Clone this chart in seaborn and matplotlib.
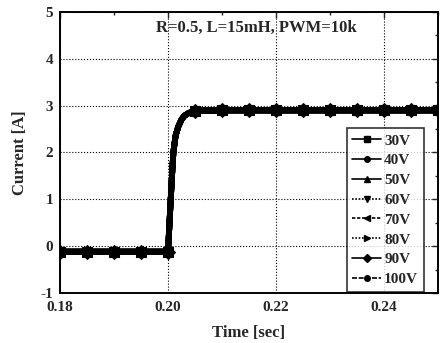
import numpy as np
import pandas as pd
import matplotlib
matplotlib.use("Agg")
import matplotlib.pyplot as plt
from matplotlib.lines import Line2D
from matplotlib.ticker import MultipleLocator
import seaborn as sns

# values
time_sec = [0.180, 0.185, 0.190, 0.195, 0.200,
            0.2002, 0.2004, 0.2007, 0.2010, 0.2014, 0.2019, 0.2025, 0.2030, 0.2038, 0.2045,
            0.205, 0.210, 0.215, 0.220, 0.225, 0.230, 0.235, 0.240, 0.245, 0.250]
current_a = [-0.12, -0.12, -0.12, -0.12, -0.12,
             0.30, 0.75, 1.41, 2.00, 2.35, 2.55, 2.70, 2.78, 2.84, 2.87,
             2.89, 2.90, 2.90, 2.90, 2.90, 2.90, 2.90, 2.90, 2.90, 2.90]
voltages = ["30V", "40V", "50V", "60V", "70V", "80V", "90V", "100V"]
marker_shapes = ["s", "o", "^", "v", "<", ">", "D", "o"]
line_dashes = ["", "", "", (1, 1), (2, 1), (1, 1), "", (3, 1)]

rows = []
for v in voltages:
    for t, c in zip(time_sec, current_a):
        rows.append({"Time": t, "Current": c, "Voltage": v})
df = pd.DataFrame(rows)

# markers only on the 5 ms grid
mark_idx = [i for i, t in enumerate(time_sec) if abs(t / 0.005 - round(t / 0.005)) < 1e-6]

sns.set_style("white")
plt.rcParams["font.family"] = ["Liberation Serif", "DejaVu Serif"]
plt.rcParams["font.weight"] = "bold"
plt.rcParams["axes.unicode_minus"] = False

fig = plt.figure(figsize=(4.41, 3.43), dpi=100)
ax = fig.add_axes([0.136, 0.146, 0.857, 0.819])

sns.lineplot(data=df, x="Time", y="Current", hue="Voltage", style="Voltage",
             palette=["black"] * len(voltages),
             markers=dict(zip(voltages, marker_shapes)),
             dashes=dict(zip(voltages, [""] * len(voltages))),
             markersize=7, markeredgecolor="black", linewidth=4.2,
             markevery=mark_idx, legend=False, ax=ax)

ax.set_xlim(0.18, 0.25)
ax.set_ylim(-1, 5)
ax.xaxis.set_minor_locator(MultipleLocator(0.01))
ax.yaxis.set_major_locator(MultipleLocator(1))
ax.yaxis.set_minor_locator(MultipleLocator(0.5))
ax.set_xticks([0.18, 0.20, 0.22, 0.24])
ax.set_xticklabels(["0.18", "0.20", "0.22", "0.24"])
ax.tick_params(which="both", direction="in", top=True, right=True, labelsize=11)
ax.tick_params(axis="x", pad=6)
ax.tick_params(axis="y", pad=5)
ax.tick_params(which="major", length=4, width=1)
ax.tick_params(which="minor", length=2.5, width=1)
ax.grid(True, which="major", linestyle=":", color="black", linewidth=0.8)
for s in ax.spines.values():
    s.set_linewidth(1.4)
    s.set_color("black")

ax.set_xlabel("Time [sec]", fontsize=12, fontweight="bold", labelpad=8)
ax.set_ylabel("Current [A]", fontsize=12, fontweight="bold", labelpad=9)
ax.text(0.52, 0.945, "R=0.5, L=15mH, PWM=10k", transform=ax.transAxes,
        ha="center", va="center", fontsize=12, fontweight="bold")

handles = []
for v, m, d in zip(voltages, marker_shapes, line_dashes):
    ls = "-" if d == "" else (0, d)
    handles.append(Line2D([0], [0], color="black", marker=m, markersize=4,
                          linestyle=ls, linewidth=1.2))
leg = ax.legend(handles, voltages, loc="lower right", bbox_to_anchor=(0.962, 0.005),
                frameon=True, fancybox=False, edgecolor="black",
                handlelength=1.9, handletextpad=0.2, labelspacing=0.4,
                borderpad=0.35, borderaxespad=0.0,
                prop={"weight": "bold", "size": 11})
leg.get_frame().set_linewidth(1.2)

fig.savefig("out.png", dpi=100)
